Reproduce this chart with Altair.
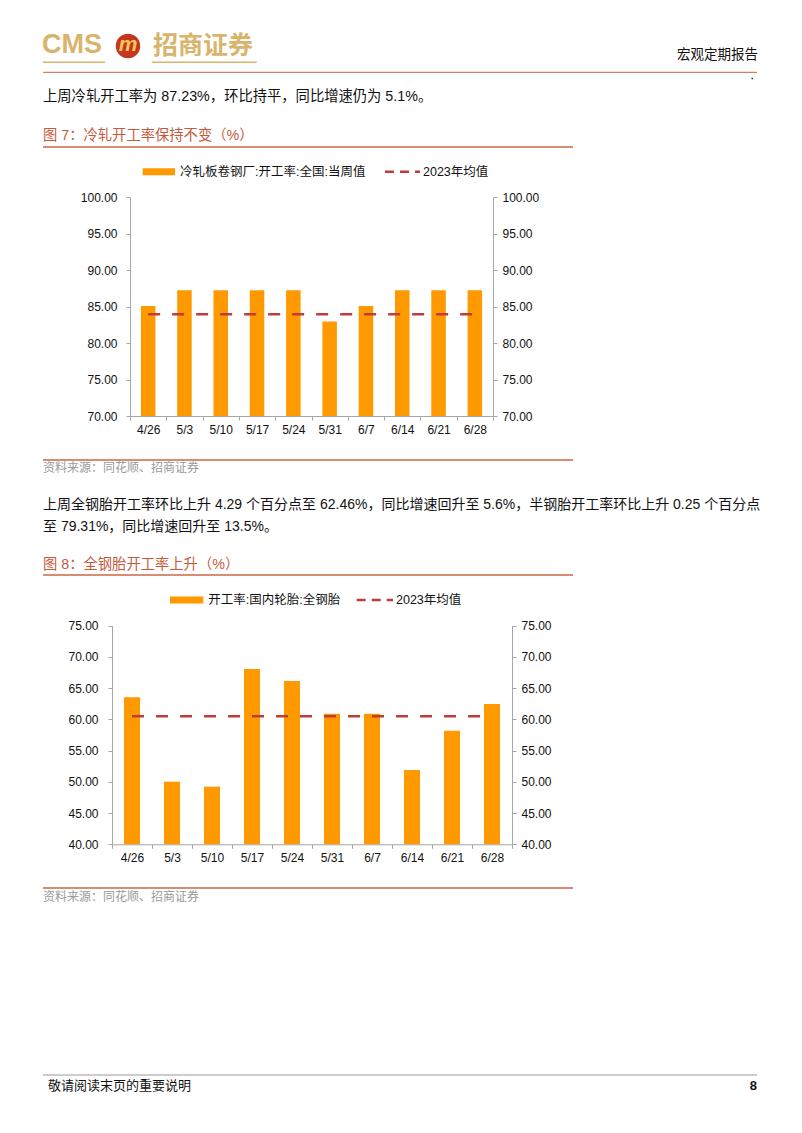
import altair as alt
import pandas as pd

# ---------------- data ----------------
dates = ["4/26", "5/3", "5/10", "5/17", "5/24", "5/31", "6/7", "6/14", "6/21", "6/28"]
cold_rolled = [85.07, 87.23, 87.23, 87.23, 87.23, 82.93, 85.07, 87.23, 87.23, 87.23]
cold_mean_2023 = 83.93
tire_all_steel = [63.54, 50.03, 49.23, 68.07, 66.15, 60.91, 60.91, 51.90, 58.17, 62.46]
tire_mean_2023 = 60.50
y1_ticks = [70, 75, 80, 85, 90, 95, 100]
y2_ticks = [40, 45, 50, 55, 60, 65, 70, 75]

legend_bar_1 = "冷轧板卷钢厂:开工率:全国:当周值"
legend_bar_2 = "开工率:国内轮胎:全钢胎"
legend_mean = "2023年均值"

para1 = "上周冷轧开工率为 87.23%，环比持平，同比增速仍为 5.1%。"
fig7_title = "图 7：冷轧开工率保持不变（%）"
source_text = "资料来源：同花顺、招商证券"
para2a = "上周全钢胎开工率环比上升 4.29 个百分点至 62.46%，同比增速回升至 5.6%，半钢胎开工率环比上升 0.25 个百分点"
para2b = "至 79.31%，同比增速回升至 13.5%。"
fig8_title = "图 8：全钢胎开工率上升（%）"
header_right = "宏观定期报告"
footer_left = "敬请阅读末页的重要说明"
page_no = "8"

# ---------------- styles ----------------
FONT = "Liberation Sans, Noto Sans CJK SC"
ORANGE = "#FF9900"
RED = "#C23B3B"
GOLD = "#D8B46C"
SALMON = "#D88C74"
TITLE_C = "#C55A3C"
GRAY = "#9A9A9A"
W, H = 786, 1117


def txt_layer(rows, align="left", weight="normal", font=FONT, **kw):
    df = pd.DataFrame(rows, columns=["text", "x", "y", "size", "color"])
    return alt.Chart(df).mark_text(align=align, baseline="middle", font=font,
                                   fontWeight=weight, **kw).encode(
        x=alt.X("x:Q", scale=None, axis=None),
        y=alt.Y("y:Q", scale=None, axis=None),
        text="text:N",
        size=alt.Size("size:Q", scale=None, legend=None),
        color=alt.Color("color:N", scale=None, legend=None),
    )


def rule_layer(rows, dash=None):
    df = pd.DataFrame(rows, columns=["x", "x2", "y", "color", "w"])
    kw = {}
    if dash:
        kw["strokeDash"] = dash
    return alt.Chart(df).mark_rule(**kw).encode(
        x=alt.X("x:Q", scale=None, axis=None),
        x2="x2:Q",
        y=alt.Y("y:Q", scale=None, axis=None),
        color=alt.Color("color:N", scale=None, legend=None),
        strokeWidth=alt.StrokeWidth("w:Q", scale=None, legend=None),
    )


# ---------------- page decorations ----------------
plain_texts = txt_layer([
    (para1, 35, 89, 14.3, "#111"),
    (fig7_title, 35, 128, 14.3, TITLE_C),
    (legend_bar_1, 172, 163.7, 12.5, "#111"),
    (legend_mean, 415, 163.7, 12.5, "#111"),
    (source_text, 35, 460, 12, GRAY),
    (para2a, 35, 497, 14, "#111"),
    (para2b, 35, 519, 14, "#111"),
    (fig8_title, 35, 557, 14.3, TITLE_C),
    (legend_bar_2, 200.3, 592, 12.5, "#111"),
    (legend_mean, 388, 592, 12.5, "#111"),
    (source_text, 35, 889, 12, GRAY),
    (footer_left, 40, 1078, 13, "#111"),
])
logo_texts = txt_layer([
    ("CMS", 34, 37, 27, GOLD),
    ("招商证券", 145, 38, 25, GOLD),
], weight="bold")
right_texts = txt_layer([
    (header_right, 750, 47, 13.5, "#111"),
], align="right")
page_num = txt_layer([(page_no, 749, 1078, 13, "#111")], align="right", weight="bold")

rules = rule_layer([
    (35, 749, 64.3, "#CF7E6A", 1.2),
    (35, 97, 54.3, GOLD, 1.5),
    (143.7, 248.7, 54.3, GOLD, 1.5),
    (35, 565, 139, SALMON, 2),
    (35, 565, 452, SALMON, 2),
    (35, 565, 567, SALMON, 2),
    (35, 565, 880, SALMON, 2),
    (35, 749, 1067, GRAY, 1),
    (134.7, 167, 163.7, ORANGE, 7),
    (162, 195.3, 592, ORANGE, 7),
    (743.5, 745, 70.5, "#333", 1.5),
])
legend_dashes = rule_layer([
    (377, 412, 163.7, RED, 2.5),
    (348.7, 385, 592, RED, 2.5),
], dash=[9, 6])

emblem_df = pd.DataFrame({"x": [120], "y": [38]})
emblem = alt.Chart(emblem_df).mark_point(filled=True, shape="circle", size=600,
                                         color="#C4361F", opacity=1).encode(
    x=alt.X("x:Q", scale=None, axis=None), y=alt.Y("y:Q", scale=None, axis=None))
emblem_m = txt_layer([("m", 120, 37, 21, "#F2C658")], align="center", weight="bold",
                     fontStyle="italic")


# ---------------- figures ----------------
def figure(values, mean, ticks, x_range, y_range, left_off, right_off, bottom_off,
           left_pad):
    n = len(dates)
    df = pd.DataFrame({"date": dates, "value": values, "mean": [mean] * n,
                       "base": [ticks[0]] * n})
    xs = alt.Scale(range=x_range, paddingInner=0, paddingOuter=0)
    x_axis = alt.Axis(orient="bottom", offset=bottom_off, title=None, labelAngle=0,
                      tickBand="extent", tickSize=4, labelPadding=4, labelOverlap=False)
    x_enc = alt.X("date:N", sort=dates, scale=xs, axis=x_axis)
    ys = alt.Scale(domain=[ticks[0], ticks[-1]], range=y_range, nice=False, zero=False)
    bars = alt.Chart(df).mark_bar(color=ORANGE, width=alt.RelativeBandSize(0.4)).encode(
        x=x_enc,
        y=alt.Y("value:Q", scale=ys,
                axis=alt.Axis(orient="left", offset=left_off, values=ticks, format=".2f",
                              title=None, tickSize=4, labelPadding=left_pad)),
        y2="base:Q",
    )
    line = alt.Chart(df).mark_line(color=RED, strokeDash=[12, 12], strokeWidth=2.5).encode(
        x=x_enc,
        y=alt.Y("mean:Q", scale=ys,
                axis=alt.Axis(orient="right", offset=right_off, values=ticks, format=".2f",
                              title=None, tickSize=4, labelPadding=5)),
    )
    return alt.layer(bars, line)


fig1 = figure(cold_rolled, cold_mean_2023, y1_ticks, [122, 485], [408, 189],
              -122, -(W - 485), -(H - 408), 9)
fig2 = figure(tire_all_steel, tire_mean_2023, y2_ticks, [104, 504], [836.3, 617.7],
              -104, -(W - 504), -(H - 836.3), 10)

chart = alt.layer(
    rules, legend_dashes, emblem, emblem_m, plain_texts, logo_texts, right_texts, page_num,
    fig1, fig2,
).resolve_scale(x="independent", y="independent").properties(
    width=W, height=H, autosize=alt.AutoSizeParams(type="none"), padding=0,
    background="white",
).configure_view(stroke=None).configure_axis(
    grid=False, labelFont="Liberation Sans", labelFontSize=12, labelColor="#111",
    domainColor="#A6A6A6", tickColor="#A6A6A6",
)

chart.save("out.html", embed_options={"renderer": "svg", "actions": False})
